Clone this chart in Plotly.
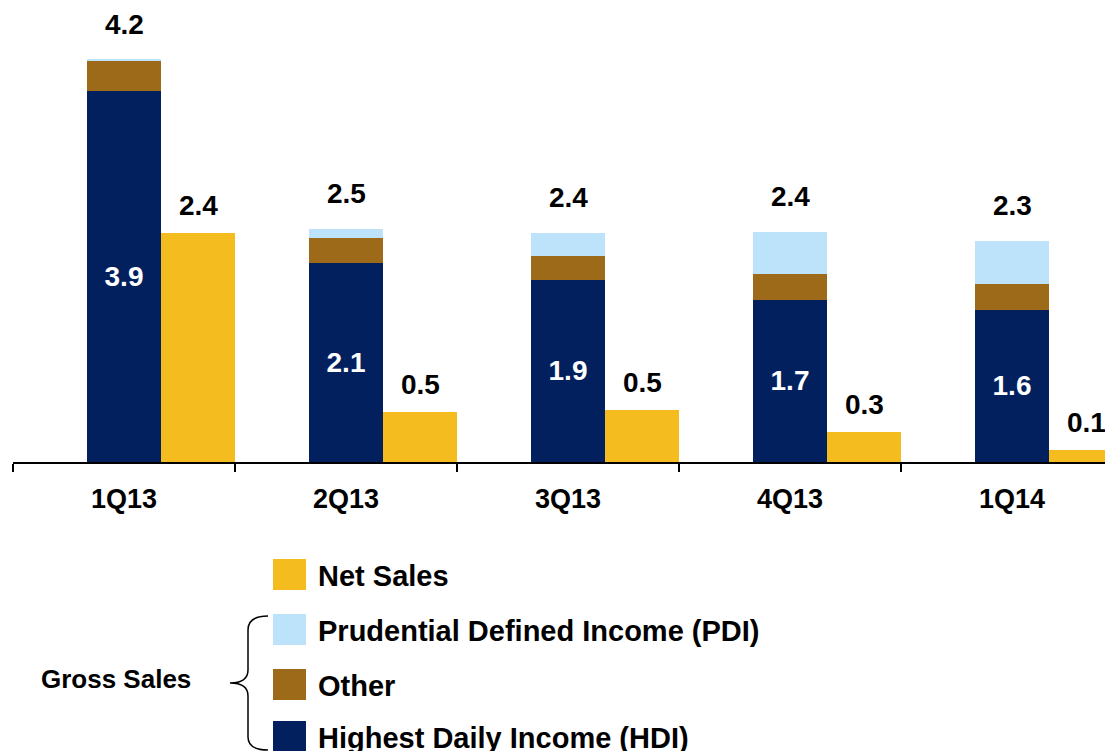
import plotly.graph_objects as go

# ---- data ----
categories = ["1Q13", "2Q13", "3Q13", "4Q13", "1Q14"]
hdi = [3.89, 2.09, 1.91, 1.70, 1.60]
other = [0.32, 0.26, 0.25, 0.27, 0.27]
pdi = [0.01, 0.09, 0.24, 0.44, 0.45]
net_sales = [2.40, 0.52, 0.55, 0.32, 0.13]
total_labels = ["4.2", "2.5", "2.4", "2.4", "2.3"]
hdi_labels = ["3.9", "2.1", "1.9", "1.7", "1.6"]
net_labels = ["2.4", "0.5", "0.5", "0.3", "0.1"]
series_names = ["Net Sales", "Prudential Defined Income (PDI)", "Other", "Highest Daily Income (HDI)"]

# ---- styles ----
C_NAVY = "#02205E"
C_BROWN = "#9C6A19"
C_LBLUE = "#BDE3FB"
C_YELLOW = "#F4BC1F"
FONT = "Liberation Sans, Arial, sans-serif"

W, H = 1105, 751
ML, MR, MT, MB = 13, 0, 0, 289
PW, PH = W - ML - MR, H - MT - MB
SLOT = 222.0            # px per category
BW = 1 / 3              # bar width (category units)
X0 = -0.5
X1 = X0 + PW / SLOT
YMAX = PH / 95.3

def px2x(px):
    return (px - ML) / PW

def py2y(py):
    return (H - MB - py) / PH

xs = list(range(len(categories)))
xs_net = [x + BW for x in xs]

fig = go.Figure()
fig.add_bar(x=xs, y=hdi, width=BW, marker=dict(color=C_NAVY, line=dict(width=0)),
            name=series_names[3], text=hdi_labels, textposition="inside",
            insidetextanchor="middle", textangle=0,
            insidetextfont=dict(color="white", size=28, family=FONT, weight="bold"))
fig.add_bar(x=xs, y=other, width=BW, marker=dict(color=C_BROWN, line=dict(width=0)),
            name=series_names[2])
fig.add_bar(x=xs, y=pdi, width=BW, marker=dict(color=C_LBLUE, line=dict(width=0)),
            name=series_names[1])
fig.add_bar(x=xs_net, y=net_sales, width=BW, marker=dict(color=C_YELLOW, line=dict(width=0)),
            name=series_names[0])

annotations = []
lab_font = dict(family=FONT, size=28, color="black", weight="bold")
for i, x in enumerate(xs):
    tot = hdi[i] + other[i] + pdi[i]
    annotations.append(dict(x=x, y=tot, xref="x", yref="y", text=total_labels[i],
                            showarrow=False, yanchor="bottom", yshift=18, font=lab_font))
    annotations.append(dict(x=xs_net[i], y=net_sales[i], xref="x", yref="y", text=net_labels[i],
                            showarrow=False, yanchor="bottom", yshift=10, font=lab_font))

# ---- custom legend ----
leg_font = dict(family=FONT, size=29, color="black", weight="bold")
leg_colors = [C_YELLOW, C_LBLUE, C_BROWN, C_NAVY]
leg_tops = [559, 614, 669, 721]
shapes = []
for name, col, top in zip(series_names, leg_colors, leg_tops):
    shapes.append(dict(type="rect", xref="paper", yref="paper",
                       x0=px2x(273), x1=px2x(306), y0=py2y(top), y1=py2y(top + 31),
                       fillcolor=col, line=dict(width=0)))
    annotations.append(dict(x=px2x(316), y=py2y(top + 17), xref="paper", yref="paper",
                            text=name, showarrow=False, xanchor="left", yanchor="middle",
                            font=leg_font))

annotations.append(dict(x=px2x(116), y=py2y(679), xref="paper", yref="paper",
                        text="Gross Sales", showarrow=False, xanchor="center", yanchor="middle",
                        font=dict(family=FONT, size=26, color="black", weight="bold")))

# brace
pts = [(268, 616), (248, 616), (248, 630), (248, 670), (248, 683), (230, 683),
       (248, 683), (248, 696), (248, 737), (248, 750), (268, 750)]
P = [(px2x(a), py2y(b)) for a, b in pts]
path = (f"M {P[0][0]},{P[0][1]} Q {P[1][0]},{P[1][1]} {P[2][0]},{P[2][1]} "
        f"L {P[3][0]},{P[3][1]} Q {P[4][0]},{P[4][1]} {P[5][0]},{P[5][1]} "
        f"Q {P[6][0]},{P[6][1]} {P[7][0]},{P[7][1]} L {P[8][0]},{P[8][1]} "
        f"Q {P[9][0]},{P[9][1]} {P[10][0]},{P[10][1]}")
shapes.append(dict(type="path", xref="paper", yref="paper", path=path,
                   line=dict(color="black", width=1.5)))

fig.update_layout(
    width=W, height=H,
    margin=dict(l=ML, r=MR, t=MT, b=MB, pad=0),
    barmode="stack",
    showlegend=False,
    plot_bgcolor="white", paper_bgcolor="white",
    annotations=annotations, shapes=shapes,
    xaxis=dict(range=[X0, X1], tickmode="array", tickvals=xs, ticktext=categories,
               ticks="", showgrid=False, zeroline=False,
               showline=True, linecolor="black", linewidth=2,
               tickfont=dict(family=FONT, size=27, color="black", weight="bold"),
               ticklabelstandoff=12,
               minor=dict(tickmode="array", tickvals=[x - 0.5 for x in xs] + [xs[-1] + 0.5],
                          ticks="outside", ticklen=8, tickcolor="black", tickwidth=1.5,
                          showgrid=False),
               fixedrange=True),
    yaxis=dict(range=[0, YMAX], visible=False, showgrid=False, zeroline=False, fixedrange=True),
)

fig.write_html("out.html", config={"displayModeBar": False},
               post_script="document.body.style.margin='0';document.body.style.overflow='hidden';")
